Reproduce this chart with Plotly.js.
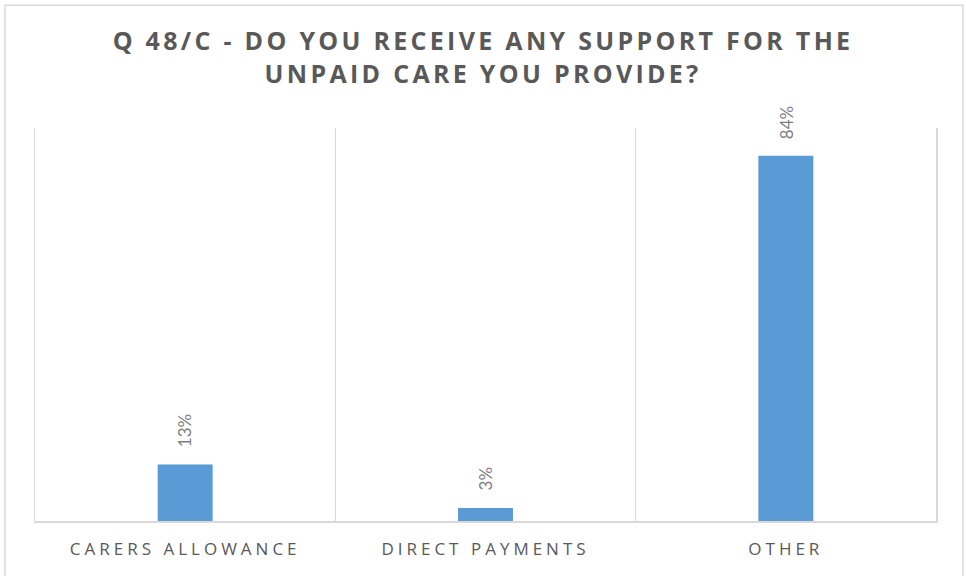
<!DOCTYPE html>
<html>
<head>
<meta charset="utf-8">
<script src="https://cdn.plot.ly/plotly-3.0.1.min.js"></script>
<style>
html,body{margin:0;padding:0;background:#fff;}
#chart{width:966px;height:576px;}
</style>
</head>
<body>
<div id="chart"></div>
<script>
const categories = ["CARERS ALLOWANCE", "DIRECT PAYMENTS", "OTHER"];
const values = [13, 3, 84];
const valueLabels = ["13%", "3%", "84%"];
const titleLines = ["Q 48/C - DO YOU RECEIVE ANY SUPPORT FOR THE", "UNPAID CARE YOU PROVIDE?"];

const spaced = (s, ls) => '<span style="letter-spacing:' + ls + 'px">' + s + '</span>';

const trace = {
  type: 'bar',
  x: categories,
  y: values,
  width: 0.183,
  marker: {color: '#5B9BD5', line: {width: 0}},
  hoverinfo: 'none'
};

const annotations = categories.map((c, i) => ({
  x: c, y: values[i], xref: 'x', yref: 'y',
  text: valueLabels[i],
  textangle: -90,
  showarrow: false,
  xanchor: 'center', yanchor: 'bottom',
  yshift: 15,
  font: {family: 'Lato, "Open Sans", sans-serif', size: 17, color: '#7f7f7f'}
}));

const layout = {
  width: 966, height: 576,
  margin: {l: 35, r: 30, t: 128, b: 54.5},
  paper_bgcolor: '#ffffff', plot_bgcolor: '#ffffff',
  showlegend: false,
  title: {
    text: spaced(titleLines[0], 3.3) + '<br>' + spaced(titleLines[1], 3.3),
    font: {family: '"Open Sans", sans-serif', size: 25, color: '#595959', weight: 'bold'},
    x: 0.5, xref: 'container', xanchor: 'center',
    y: 1 - 50/576, yref: 'container', yanchor: 'top'
  },
  xaxis: {
    type: 'category',
    range: [-0.5, 2.5],
    tickson: 'boundaries',
    showgrid: true, gridcolor: '#d9d9d9', gridwidth: 1.5,
    showline: true, linecolor: '#d9d9d9', linewidth: 1.5,
    ticks: '', ticklen: 0,
    ticklabelstandoff: 12,
    tickfont: {family: '"Open Sans", sans-serif', size: 17, color: '#595959'},
    ticktext: categories.map(c => spaced(c, 4)),
    tickvals: categories,
    fixedrange: true
  },
  yaxis: {
    range: [0, 90.4],
    showgrid: false, zeroline: false, showticklabels: false, ticks: '',
    showline: true, mirror: true, linecolor: '#d9d9d9', linewidth: 1.5,
    fixedrange: true
  },
  annotations: annotations,
  shapes: [{
    type: 'rect', xref: 'paper', yref: 'paper',
    x0: (5 - 35) / 901, x1: (963 - 35) / 901,
    y0: (521.5 - 580) / 393.5, y1: (521.5 - 5) / 393.5,
    line: {color: '#d9d9d9', width: 1.5}, fillcolor: 'rgba(0,0,0,0)', layer: 'below'
  }]
};

Plotly.newPlot('chart', [trace], layout, {staticPlot: true, displayModeBar: false});
</script>
</body>
</html>
